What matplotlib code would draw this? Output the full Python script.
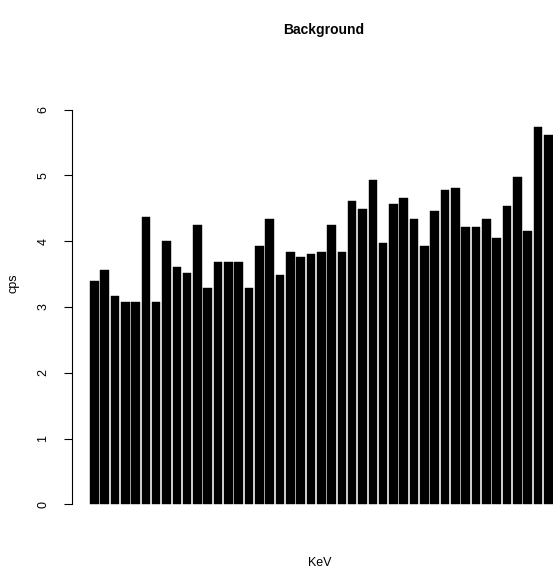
import numpy as np
import matplotlib
matplotlib.use("Agg")
import matplotlib.pyplot as plt

# ---------- data ---------- #
cps = [3.40, 3.56, 3.16, 3.07, 3.07, 4.37, 3.07, 4.00, 3.60, 3.52,
       4.24, 3.28, 3.68, 3.68, 3.68, 3.28, 3.93, 4.33, 3.48, 3.84,
       3.76, 3.80, 3.84, 4.24, 3.84, 4.61, 4.49, 4.93, 3.97, 4.57,
       4.65, 4.33, 3.93, 4.45, 4.77, 4.81, 4.21, 4.21, 4.33, 4.05,
       4.53, 4.97, 4.16, 5.74, 5.62]
y_ticks = [0, 1, 2, 3, 4, 5, 6]

plt.rcParams["font.family"] = ["Liberation Sans", "DejaVu Sans"]

W, H = 553, 573
fig = plt.figure(figsize=(W / 100, H / 100), dpi=100)

# plot region like R's barplot (it runs past the right edge of the image)
left_px, right_px = 71.5, 571.0
y0_px, per_unit = 504.3, 65.8
ylim = (-0.25, 6.45)
top_px = y0_px - ylim[1] * per_unit
bot_px = y0_px - ylim[0] * per_unit
ax = fig.add_axes([left_px / W, 1 - bot_px / H,
                   (right_px - left_px) / W, (bot_px - top_px) / H])

n = len(cps)
centers = 0.7 + 1.2 * np.arange(n)   # R barplot: width 1, space 0.2
ax.bar(centers, cps, width=1.0, color="black", edgecolor="black", linewidth=0.3)

ax.set_xlim(0.2 - 0.04 * 53.8, 54 + 0.04 * 53.8)
ax.set_ylim(*ylim)

for s in ["top", "right", "bottom"]:
    ax.spines[s].set_visible(False)
ax.spines["left"].set_bounds(0, 6)
ax.spines["left"].set_linewidth(0.8)
ax.set_xticks([])
ax.set_yticks(y_ticks)
ax.set_yticklabels([str(t) for t in y_ticks], rotation=90, va="center", fontsize=9)
ax.tick_params(axis="y", length=6, width=0.8, pad=10)

fig.text(324 / W, 1 - 30 / H, "Background", ha="center", va="center",
         fontsize=10, fontweight="bold")
fig.text(320 / W, 1 - 563 / H, "KeV", ha="center", va="center", fontsize=9)
fig.text(14 / W, 1 - 283 / H, "cps", ha="center", va="center", fontsize=9, rotation=90)

fig.savefig("out.png", dpi=100)
